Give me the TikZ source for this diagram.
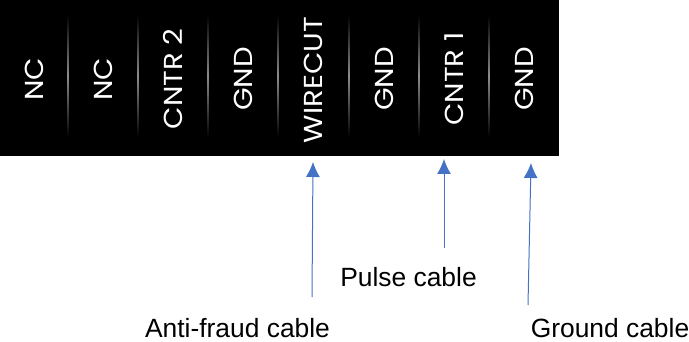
\documentclass[tikz,border=0pt]{standalone}
\usepackage{fontspec}
\setmainfont{Liberation Sans}
\newfontfamily\pinfont{Poppins}
\definecolor{arrowblue}{HTML}{4472C4}
\usetikzlibrary{arrows.meta}
\newcommand{\pintext}[1]{\scalebox{1.12}[1]{\pinfont\fontsize{26}{26}\selectfont #1}}
\begin{document}
\begin{tikzpicture}[x=1pt,y=-1pt,
  pinlabel/.style={text=white,rotate=90,inner sep=0pt},
  cablelabel/.style={inner sep=0pt,font=\fontsize{26.4}{26.4}\selectfont,text=black},
  cablearrow/.style={draw=arrowblue,line width=1pt,-{Latex[length=15pt,width=14pt]}}]
\useasboundingbox (0,0) rectangle (689,342);
\fill[black] (0,0) rectangle (559,156);
\foreach \x in {68,138,208,278,349,419,489}{
  \shade[top color=black,bottom color=black,middle color=gray!90] (\x-0.9,15) rectangle (\x+0.9,137);
}
\node[pinlabel] (p1) at (34,79) {\pintext{NC}};
\node[pinlabel] (p2) at (103,79) {\pintext{NC}};
\node[pinlabel] (p3) at (173,79) {\pintext{CNTR 2}};
\node[pinlabel] (p4) at (243,79) {\pintext{GND}};
\node[pinlabel] (p5) at (313,80) {\pintext{WIRECUT}};
\node[pinlabel] (p6) at (384,79) {\pintext{GND}};
\node[pinlabel] (p7) at (454,79) {\pintext{CNTR 1}};
\node[pinlabel] (p8) at (524,79) {\pintext{GND}};
\coordinate (t1) at (313,162);
\coordinate (b1) at (312,297);
\coordinate (t2) at (444,159);
\coordinate (b2) at (444,248);
\coordinate (t3) at (531,163);
\coordinate (b3) at (528,305);
\draw[cablearrow] (b1) -- (t1);
\draw[cablearrow] (b2) -- (t2);
\draw[cablearrow] (b3) -- (t3);
\node[cablelabel] (l1) at (237.5,328) {Anti-fraud cable};
\node[cablelabel] (l2) at (408.5,277) {Pulse cable};
\node[cablelabel] (l3) at (610,328) {Ground cable};
\end{tikzpicture}
\end{document}
